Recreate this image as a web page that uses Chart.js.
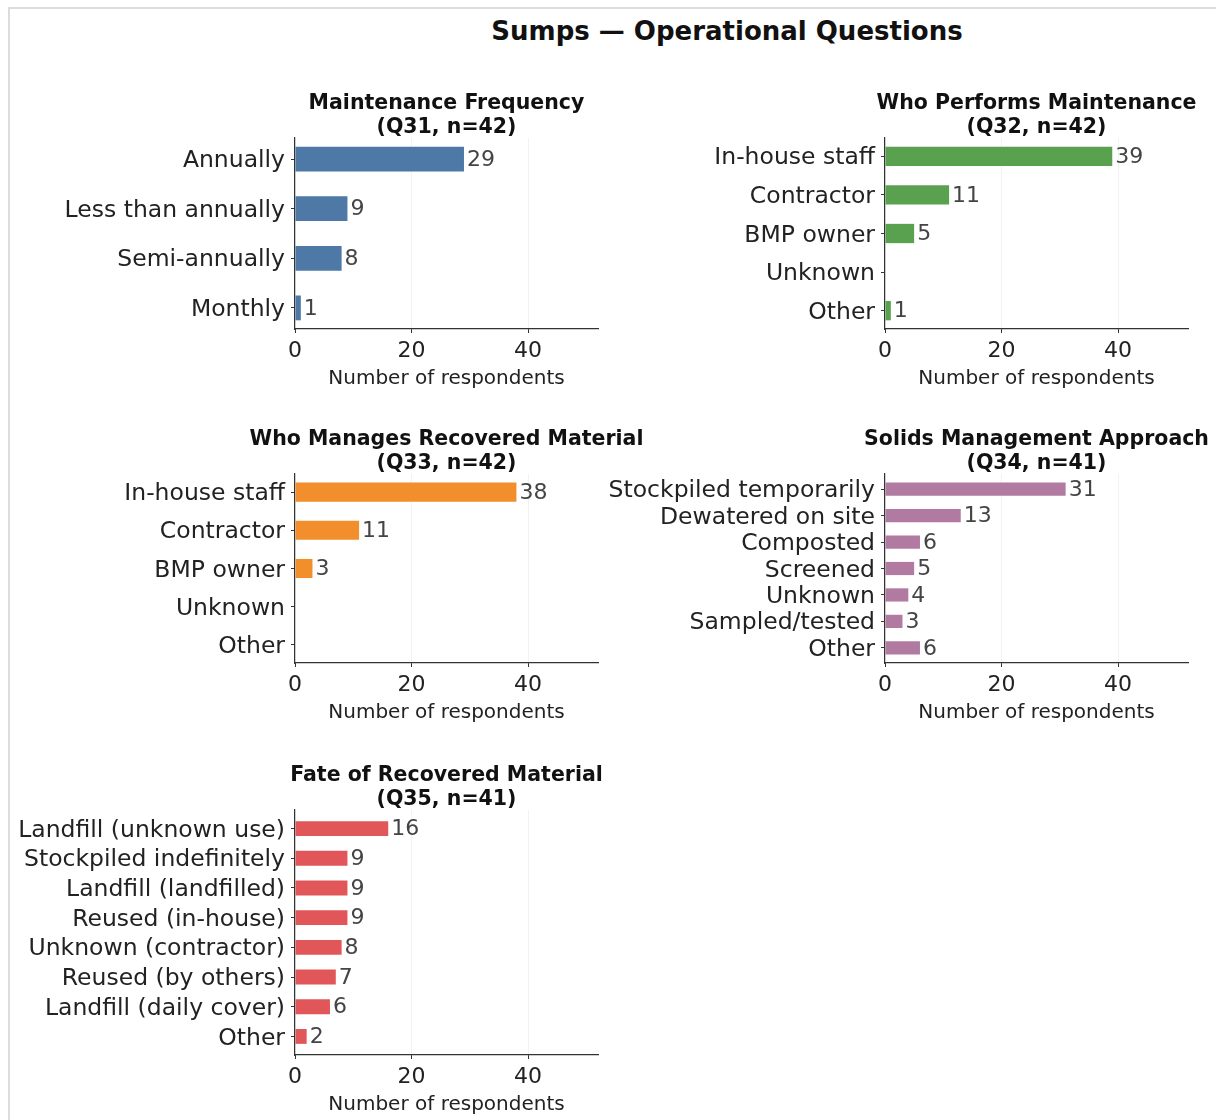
<!DOCTYPE html>
<html>
<head>
<meta charset="utf-8">
<title>Sumps — Operational Questions</title>
<script src="https://cdn.jsdelivr.net/npm/chart.js@4.4.1/dist/chart.umd.min.js"></script>
<style>
    html, body { margin: 0; padding: 0; background: #fff; overflow: hidden; }
    #page { position: relative; width: 1216px; height: 1120px; overflow: hidden; }
    #frame { position: absolute; left: 8px; top: 7px; width: 1300px; height: 1300px; border: 2px solid #dcdcdc; }
    #suptitle {
        position: absolute; left: 727px; top: 16px; transform: translateX(-50%);
        white-space: nowrap; font: bold 26px 'DejaVu Sans', sans-serif; line-height: 30px; color: #111;
    }
    canvas { position: absolute; }
</style>
</head>
<body>
<div id="page">
    <div id="frame"></div>
    <div id="suptitle">Sumps — Operational Questions</div>
</div>
<script>
// Dados

const q31Labels = ['Annually', 'Less than annually', 'Semi-annually', 'Monthly'];
const q31Values = [29, 9, 8, 1];

const q32Labels = ['In-house staff', 'Contractor', 'BMP owner', 'Unknown', 'Other'];
const q32Values = [39, 11, 5, 0, 1];

const q33Labels = ['In-house staff', 'Contractor', 'BMP owner', 'Unknown', 'Other'];
const q33Values = [38, 11, 3, 0, 0];

const q34Labels = ['Stockpiled temporarily', 'Dewatered on site', 'Composted', 'Screened',
    'Unknown', 'Sampled/tested', 'Other'];
const q34Values = [31, 13, 6, 5, 4, 3, 6];

const q35Labels = ['Landfill (unknown use)', 'Stockpiled indefinitely', 'Landfill (landfilled)',
    'Reused (in-house)', 'Unknown (contractor)', 'Reused (by others)', 'Landfill (daily cover)', 'Other'];
const q35Values = [16, 9, 9, 9, 8, 7, 6, 2];

const xTicks = [0, 20, 40];
const xMax = 52;
const xTitle = 'Number of respondents';

// Painéis: texto, cor e posição da área do gráfico (px na página)
const panels = [
    { title: ['Maintenance Frequency', '(Q31, n=42)'], labels: q31Labels, values: q31Values,
      color: '#4e79a7', plot: { x0: 295, x1: 598, y0: 138, y1: 329 } },
    { title: ['Who Performs Maintenance', '(Q32, n=42)'], labels: q32Labels, values: q32Values,
      color: '#59a14f', plot: { x0: 885, x1: 1188, y0: 138, y1: 329 } },
    { title: ['Who Manages Recovered Material', '(Q33, n=42)'], labels: q33Labels, values: q33Values,
      color: '#f28e2b', plot: { x0: 295, x1: 598, y0: 474, y1: 663 } },
    { title: ['Solids Management Approach', '(Q34, n=41)'], labels: q34Labels, values: q34Values,
      color: '#b07aa1', plot: { x0: 885, x1: 1188, y0: 474, y1: 663 } },
    { title: ['Fate of Recovered Material', '(Q35, n=41)'], labels: q35Labels, values: q35Values,
      color: '#e15759', plot: { x0: 295, x1: 598, y0: 810, y1: 1055 } },
];

const YW = 290;     // largura do eixo y
const XH = 62;      // altura do eixo x
const TOP = 55;     // espaço para o título
const RIGHT = 60;
const FONT = "'DejaVu Sans', sans-serif";
const AXIS = '#333';

Chart.defaults.font.family = FONT;
Chart.defaults.color = AXIS;

/** Títulos de cada painel e rótulos de valor no fim das barras. */
const decorPlugin = {
    id: 'decor',
    afterDatasetsDraw(chart, args, opts) {
        const { ctx, chartArea } = chart;
        ctx.save();

        ctx.fillStyle = '#444';
        ctx.font = `22px ${FONT}`;
        ctx.textAlign = 'left';
        ctx.textBaseline = 'middle';
        const meta = chart.getDatasetMeta(0);
        meta.data.forEach((bar, i) => {
            const v = chart.data.datasets[0].data[i].x;
            if (!v) return;
            ctx.fillText(String(v), bar.x + 3, bar.y + 1);
        });

        ctx.fillStyle = '#111';
        ctx.font = `bold 20.5px ${FONT}`;
        ctx.textAlign = 'center';
        const cx = (chartArea.left + chartArea.right) / 2;
        ctx.fillText(opts.title[0], cx, chartArea.top - 34);
        ctx.fillText(opts.title[1], cx, chartArea.top - 10);
        ctx.restore();
    }
};

function makePanel(p) {
    const n = p.labels.length;
    const margin = 0.05 * (n - 0.5);
    const canvas = document.createElement('canvas');
    canvas.width = YW + (p.plot.x1 - p.plot.x0) + RIGHT;
    canvas.height = TOP + (p.plot.y1 - p.plot.y0) + XH;
    canvas.style.left = (p.plot.x0 - YW) + 'px';
    canvas.style.top = (p.plot.y0 - TOP) + 'px';
    document.getElementById('page').appendChild(canvas);

    return new Chart(canvas.getContext('2d'), {
        type: 'bar',
        data: {
            datasets: [{
                data: p.values.map((v, i) => ({ x: v, y: i })),
                backgroundColor: p.color,
                borderWidth: 0,
                barPercentage: 0.5,
                categoryPercentage: 1,
            }]
        },
        plugins: [decorPlugin],
        options: {
            indexAxis: 'y',
            responsive: false,
            animation: false,
            devicePixelRatio: 1,
            layout: { padding: { top: TOP, right: RIGHT, left: 0, bottom: 0 } },
            plugins: {
                legend: { display: false },
                tooltip: { enabled: false },
                decor: { title: p.title },
            },
            scales: {
                y: {
                    type: 'linear',
                    reverse: true,
                    offset: false,
                    min: -0.25 - margin,
                    max: n - 0.75 + margin,
                    afterBuildTicks: (s) => { s.ticks = p.labels.map((_, i) => ({ value: i })); },
                    afterFit: (s) => { s.width = YW; },
                    ticks: {
                        autoSkip: false,
                        padding: 6,
                        labelOffset: 2,
                        color: '#222',
                        font: { size: 23.5 },
                        callback: (v) => p.labels[v],
                    },
                    grid: { offset: false, color: 'transparent', tickColor: AXIS, tickLength: 4, drawTicks: true },
                    border: { color: AXIS, width: 1.2 },
                },
                x: {
                    type: 'linear',
                    min: 0,
                    max: xMax,
                    afterBuildTicks: (s) => { s.ticks = xTicks.map((v) => ({ value: v })); },
                    afterFit: (s) => { s.height = XH; },
                    ticks: {
                        padding: 5,
                        color: '#222',
                        font: { size: 22 },
                    },
                    grid: { color: 'rgba(0, 0, 0, 0.05)', tickColor: AXIS, tickLength: 4 },
                    border: { color: AXIS, width: 1.2 },
                    title: {
                        display: true,
                        text: xTitle,
                        color: '#222',
                        font: { size: 20 },
                        padding: 0,
                    },
                },
            },
        },
    });
}

panels.forEach(makePanel);
</script>
</body>
</html>
